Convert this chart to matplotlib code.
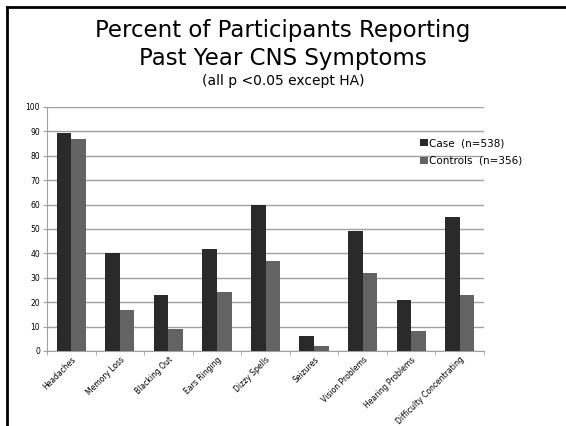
import numpy as np
import matplotlib.pyplot as plt
from matplotlib.lines import Line2D

# data
symptoms = ['Headaches', 'Memory Loss', 'Blacking Out', 'Ears Ringing', 'Dizzy Spells',
            'Seizures', 'Vision Problems', 'Hearing Problems', 'Difficulty Concentrating']
case_pct = [89.5, 40, 23, 42, 60, 6, 49, 21, 55]
control_pct = [87, 17, 9, 24, 37, 2, 32, 8, 23]
legend_labels = ['Case  (n=538)', 'Controls  (n=356)']

W, H = 566, 426
fig = plt.figure(figsize=(W / 100, H / 100), dpi=100)
ax = fig.add_axes([47 / W, 1 - 351 / H, (484 - 47) / W, (351 - 107) / H])

x = np.arange(len(symptoms))
bw = 0.3
ax.bar(x - bw / 2, case_pct, bw, color='#2a2a2a', label=legend_labels[0], zorder=3)
ax.bar(x + bw / 2, control_pct, bw, color='#636363', label=legend_labels[1], zorder=3)

ax.set_xlim(-0.5, len(symptoms) - 0.5)
ax.set_ylim(0, 100)
ax.set_yticks(np.arange(0, 101, 10))
ax.yaxis.grid(True, color='#a0a0a0', linewidth=1.0, zorder=0)
ax.tick_params(axis='y', labelsize=5.5, length=3, color='#a0a0a0', pad=2)

ax.set_xticks(x)
ax.set_xticklabels(symptoms, rotation=45, ha='right', rotation_mode='anchor', fontsize=5.5)
ax.tick_params(axis='x', length=0, pad=3)
ax.set_xticks(np.arange(-0.5, len(symptoms)), minor=True)
ax.tick_params(axis='x', which='minor', length=3, color='#a0a0a0')

for s in ['top', 'right']:
    ax.spines[s].set_visible(False)
ax.spines['left'].set_color('#a0a0a0')
ax.spines['bottom'].set_color('#a0a0a0')

ax.legend(loc='upper left', bbox_to_anchor=(0.845, 0.89), frameon=False, fontsize=7.5,
          handlelength=0.7, handleheight=0.7, handletextpad=0.15, labelspacing=0.75,
          borderaxespad=0)

fig.text(0.5, 1 - 30 / H, 'Percent of Participants Reporting', ha='center', va='center', fontsize=16.5)
fig.text(0.5, 1 - 58 / H, 'Past Year CNS Symptoms', ha='center', va='center', fontsize=16.5)
fig.text(0.5, 1 - 81 / H, '(all p <0.05 except HA)', ha='center', va='center', fontsize=10)

# slide frame on the left and top
fig.add_artist(Line2D([7 / W, 7 / W], [0, 1 - 7 / H], color='black', linewidth=2))
fig.add_artist(Line2D([7 / W, 1], [1 - 7 / H, 1 - 7 / H], color='black', linewidth=2))

fig.savefig('out.png', dpi=100)
